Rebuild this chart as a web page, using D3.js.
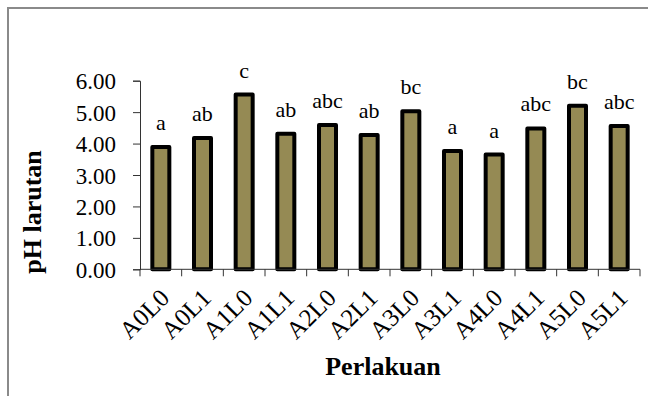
<!DOCTYPE html>
<html><head><meta charset="utf-8">
<script src="https://cdn.jsdelivr.net/npm/d3@7"></script>
<style>
html,body{margin:0;padding:0;background:#fff;}
svg text{font-family:"Liberation Serif","Times New Roman",Times,serif !important;}
</style></head>
<body>
<svg id="c" width="648" height="396"></svg>
<script>
const categories = ["A0L0","A0L1","A1L0","A1L1","A2L0","A2L1","A3L0","A3L1","A4L0","A4L1","A5L0","A5L1"];
const values = [3.89,4.18,5.56,4.31,4.59,4.27,5.03,3.76,3.65,4.48,5.20,4.56];
const letters = ["a","ab","c","ab","abc","ab","bc","a","a","abc","bc","abc"];
const yTicks = [0,1,2,3,4,5,6];

(function(){
const svg = d3.select("#c");
svg.append("rect").attr("x",8).attr("y",8).attr("width",800).attr("height",600)
  .attr("fill","none").attr("stroke","#8a8a8a").attr("stroke-width",2);

const pL=140, pR=640, pT=80.7, pB=269.3;
const xb = d3.scaleBand().domain(categories).range([pL,pR]);
const y = d3.scaleLinear().domain([0,6]).range([pB,pT]);

// bars
svg.append("g").selectAll("rect").data(categories).join("rect")
  .attr("x",d=>xb(d)+xb.bandwidth()/2-8.5)
  .attr("width",17)
  .attr("y",(d,i)=>y(values[i]))
  .attr("height",(d,i)=>y(0)-y(values[i]))
  .attr("fill","#958a54").attr("stroke","#000").attr("stroke-width",4)
  .attr("stroke-linejoin","round");

// y axis
const ya = svg.append("g").attr("transform",`translate(${pL},0)`)
  .call(d3.axisLeft(y).tickValues(yTicks).tickFormat(d3.format(".2f")).tickSize(7).tickPadding(17));
ya.attr("font-family",null);
ya.select(".domain").attr("stroke","#333");
ya.selectAll(".tick line").attr("stroke","#333");
ya.selectAll("text").attr("font-size",23).attr("fill","#000").attr("dy","0.35em");

// x axis
const xa = svg.append("g").attr("transform",`translate(0,${pB})`);
xa.append("line").attr("x1",pL).attr("x2",pR).attr("stroke","#333");
xa.selectAll("line.t").data(categories.concat(["end"])).join("line").attr("class","t")
  .attr("x1",(d,i)=>i<categories.length?xb(d):pR).attr("x2",(d,i)=>i<categories.length?xb(d):pR)
  .attr("y1",0).attr("y2",7).attr("stroke","#333");
xa.selectAll("text").data(categories).join("text")
  .attr("transform",d=>`translate(${xb(d)+xb.bandwidth()/2+10},${30}) rotate(-45)`)
  .attr("text-anchor","end").attr("font-size",25).attr("fill","#000")
  .text(d=>d);

// letters
svg.append("g").selectAll("text").data(categories).join("text")
  .attr("x",d=>xb(d)+xb.bandwidth()/2)
  .attr("y",(d,i)=>y(values[i])-17)
  .attr("text-anchor","middle").attr("font-size",22).attr("fill","#000")
  .text((d,i)=>letters[i]);

// axis titles
svg.append("text").attr("x",383).attr("y",375).attr("text-anchor","middle")
  .attr("font-size",26).attr("font-weight","bold").text("Perlakuan");
svg.append("text").attr("transform","translate(41,212) rotate(-90)").attr("text-anchor","middle")
  .attr("font-size",26).attr("font-weight","bold").text("pH larutan");
})();
</script>
</body></html>
